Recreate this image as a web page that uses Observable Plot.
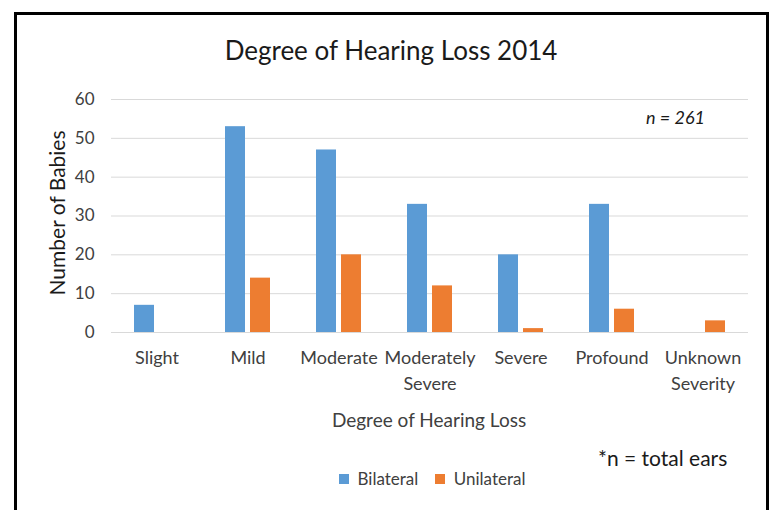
<!DOCTYPE html>
<html>
<head>
<meta charset="utf-8">
<script src="https://cdn.jsdelivr.net/npm/d3@7"></script>
<script src="https://cdn.jsdelivr.net/npm/@observablehq/plot@0.6"></script>
<style>
  html, body { margin: 0; padding: 0; background: #fff; }
  #wrap { position: relative; width: 775px; height: 510px; overflow: hidden; font-family: Lato, "Open Sans", sans-serif; }
  #frame { position: absolute; left: 14px; top: 12px; width: 755px; height: 600px; box-sizing: border-box; border: 3px solid #000; }
  #chart { position: absolute; left: 0; top: 0; }
  #legend { position: absolute; left: 339px; top: 462px; }
</style>
</head>
<body>
<div id="wrap">
  <div id="frame"></div>
  <div id="chart"></div>
  <div id="legend"></div>
</div>
<script>
const categories = ["Slight", "Mild", "Moderate", "Moderately Severe", "Severe", "Profound", "Unknown Severity"];
const bilateral = [7, 53, 47, 33, 20, 33, 0];
const unilateral = [0, 14, 20, 12, 1, 6, 3];
const seriesNames = ["Bilateral", "Unilateral"];
const seriesColors = ["#5B9BD5", "#ED7D31"];
const yTicks = [0, 10, 20, 30, 40, 50, 60];
const titleText = "Degree of Hearing Loss 2014";
const xTitle = "Degree of Hearing Loss";
const yTitle = "Number of Babies";
const nNote = "n = 261";
const footNote = "*n = total ears";

const data = categories.flatMap((c, i) => [
  {cat: c, series: seriesNames[0], value: bilateral[i]},
  {cat: c, series: seriesNames[1], value: unilateral[i]}
]);

const textColor = "#404040";
const font = "Lato, 'Open Sans', sans-serif";

const svg = Plot.plot({
  width: 775,
  height: 510,
  marginLeft: 110,
  marginRight: 27,
  marginTop: 99,
  marginBottom: 178,
  style: {fontFamily: font, fontSize: "17px", color: textColor, background: "transparent"},
  fx: {domain: categories, padding: 0, label: null},
  x: {domain: seriesNames, paddingInner: 0.192, paddingOuter: 0.849, axis: null},
  y: {domain: [0, 60], label: null},
  color: {domain: seriesNames, range: seriesColors},
  marks: [
    Plot.gridY(yTicks, {stroke: "#d9d9d9", strokeOpacity: 1}),
    Plot.axisY(yTicks, {tickSize: 0, tickPadding: 17, label: null, fill: textColor}),
    Plot.axisFx({anchor: "bottom", tickSize: 0, tickPadding: 14, lineHeight: 1.4, fontSize: 18, label: null, fill: textColor,
                 tickFormat: d => d.replace(" ", "\n")}),
    Plot.barY(data, {fx: "cat", x: "series", y: "value", fill: "series"}),
    Plot.ruleY([0], {stroke: "#d9d9d9"})
  ]
});
document.getElementById("chart").appendChild(svg);

const s = d3.select(svg);
s.append("text").attr("x", 391).attr("y", 60).attr("text-anchor", "middle")
  .attr("font-size", 26).attr("fill", "#1a1a1a").text(titleText);
s.append("text").attr("transform", "translate(56,213) rotate(-90)").attr("text-anchor", "middle")
  .attr("dominant-baseline", "central").attr("font-size", 21).attr("fill", "#1a1a1a").text(yTitle);
s.append("text").attr("x", 429).attr("y", 427).attr("text-anchor", "middle")
  .attr("font-size", 19).attr("fill", textColor).text(xTitle);
s.append("text").attr("x", 705).attr("y", 124).attr("text-anchor", "end")
  .attr("font-size", 18).attr("font-style", "italic").attr("fill", "#1a1a1a").text(nNote);
s.append("text").attr("x", 598).attr("y", 466).attr("text-anchor", "start")
  .attr("font-size", 21).attr("fill", "#1a1a1a").text(footNote);

const legend = Plot.legend({
  color: {domain: seriesNames, range: seriesColors},
  legend: "swatches",
  swatchSize: 10,
  style: {fontFamily: font, fontSize: "17px", color: textColor}
});
document.getElementById("legend").appendChild(legend);
</script>
</body>
</html>
